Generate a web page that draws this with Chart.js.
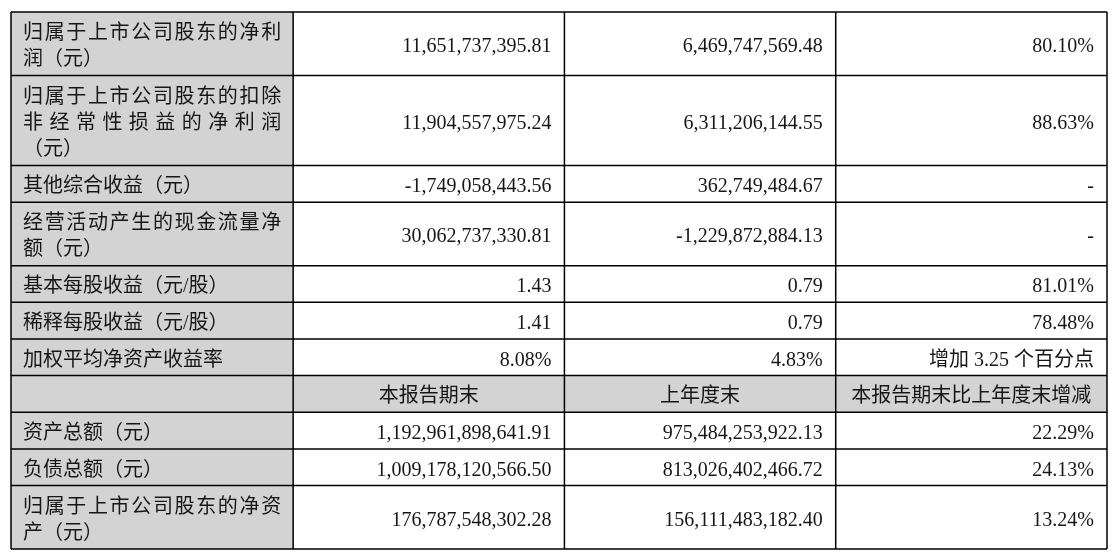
<!DOCTYPE html>
<html>
<head>
<meta charset="utf-8">
<script src="https://cdn.jsdelivr.net/npm/chart.js@4.4.1/dist/chart.umd.min.js"></script>
<style>
  html, body { margin: 0; padding: 0; background: #fff; }
  #wrap { width: 1120px; height: 560px; }
</style>
</head>
<body>
<div id="wrap"><canvas id="tableChart" width="1120" height="560"></canvas></div>
<script>
// row labels, one entry per printed line
var rowLabels = [
  ['归属于上市公司股东的净利', '润（元）'],
  ['归属于上市公司股东的扣除', '非经常性损益的净利润', '（元）'],
  ['其他综合收益（元）'],
  ['经营活动产生的现金流量净', '额（元）'],
  ['基本每股收益（元/股）'],
  ['稀释每股收益（元/股）'],
  ['加权平均净资产收益率'],
  [''],
  ['资产总额（元）'],
  ['负债总额（元）'],
  ['归属于上市公司股东的净资', '产（元）']
];
var currentValues = [
  '11,651,737,395.81', '11,904,557,975.24', '-1,749,058,443.56', '30,062,737,330.81',
  '1.43', '1.41', '8.08%', '本报告期末',
  '1,192,961,898,641.91', '1,009,178,120,566.50', '176,787,548,302.28'
];
var previousValues = [
  '6,469,747,569.48', '6,311,206,144.55', '362,749,484.67', '-1,229,872,884.13',
  '0.79', '0.79', '4.83%', '上年度末',
  '975,484,253,922.13', '813,026,402,466.72', '156,111,483,182.40'
];
var changeValues = [
  '80.10%', '88.63%', '-', '-',
  '81.01%', '78.48%', '增加 3.25 个百分点', '本报告期末比上年度末增减',
  '22.29%', '24.13%', '13.24%'
];
var headerRow = 7;

// layout
var colWeights = [1.04, 1, 1, 1];
var colEdges = [0];
colWeights.forEach(function (w, i) { colEdges.push(colEdges[i] + w); });
var rowEdges = [0];
rowLabels.forEach(function (l, i) { rowEdges.push(rowEdges[i] + l.length * 27 + 10); });

var FONT = '20px "Liberation Serif", "Noto Sans CJK SC"';
var GRAY = '#d3d3d3';
var INK = '#161616';
var PAD = 12;
var PITCH = 26;

function drawJustified(ctx, text, x0, x1, y) {
  var chars = Array.from(text);
  var widths = chars.map(function (c) { return ctx.measureText(c).width; });
  var total = widths.reduce(function (a, b) { return a + b; }, 0);
  var gap = chars.length > 1 ? (x1 - x0 - total) / (chars.length - 1) : 0;
  if (gap < 0) gap = 0;
  var x = x0;
  ctx.textAlign = 'left';
  chars.forEach(function (c, i) {
    ctx.fillText(c, x, y);
    x += widths[i] + gap;
  });
}

var tablePlugin = {
  id: 'tablePlugin',
  afterDraw: function (chart) {
    var ctx = chart.ctx;
    var xs = chart.scales.x, ys = chart.scales.y;
    var px = colEdges.map(function (v) { return xs.getPixelForValue(v); });
    var py = rowEdges.map(function (v) { return ys.getPixelForValue(v); });
    var cols = [null, currentValues, previousValues, changeValues];

    ctx.save();
    // gray cells
    ctx.fillStyle = GRAY;
    for (var r = 0; r < rowLabels.length; r++) {
      ctx.fillRect(px[0], py[r], px[1] - px[0], py[r + 1] - py[r]);
    }
    ctx.fillRect(px[0], py[headerRow], px[4] - px[0], py[headerRow + 1] - py[headerRow]);

    // text
    ctx.font = FONT;
    ctx.fillStyle = INK;
    ctx.textBaseline = 'alphabetic';
    for (r = 0; r < rowLabels.length; r++) {
      var mid = (py[r] + py[r + 1]) / 2;
      var lines = rowLabels[r];
      lines.forEach(function (line, i) {
        var y = mid + (i - (lines.length - 1) / 2) * PITCH + 8.5;
        if (i < lines.length - 1) {
          drawJustified(ctx, line, px[0] + PAD, px[1] - PAD, y);
        } else {
          ctx.textAlign = 'left';
          ctx.fillText(line, px[0] + PAD, y);
        }
      });
      for (var c = 1; c < 4; c++) {
        var txt = cols[c][r];
        if (r === headerRow) {
          ctx.textAlign = 'center';
          ctx.fillText(txt, (px[c] + px[c + 1]) / 2, mid + 8.5);
        } else {
          ctx.textAlign = 'right';
          ctx.fillText(txt, px[c + 1] - 13, mid + 8.5);
        }
      }
    }

    // grid
    ctx.strokeStyle = '#000';
    ctx.lineWidth = 1.5;
    ctx.beginPath();
    py.forEach(function (y) { ctx.moveTo(px[0], y); ctx.lineTo(px[4], y); });
    px.forEach(function (x) { ctx.moveTo(x, py[0]); ctx.lineTo(x, py[py.length - 1]); });
    ctx.stroke();
    ctx.restore();
  }
};

new Chart(document.getElementById('tableChart').getContext('2d'), {
  type: 'scatter',
  data: { datasets: [] },
  options: {
    responsive: false,
    animation: false,
    devicePixelRatio: 1,
    layout: { padding: { left: 11, top: 12, right: 13, bottom: 11 } },
    plugins: { legend: { display: false }, tooltip: { enabled: false } },
    scales: {
      x: { type: 'linear', display: false, min: 0, max: colEdges[colEdges.length - 1] },
      y: { type: 'linear', display: false, reverse: true, min: 0, max: rowEdges[rowEdges.length - 1] }
    }
  },
  plugins: [tablePlugin]
});
</script>
</body>
</html>
